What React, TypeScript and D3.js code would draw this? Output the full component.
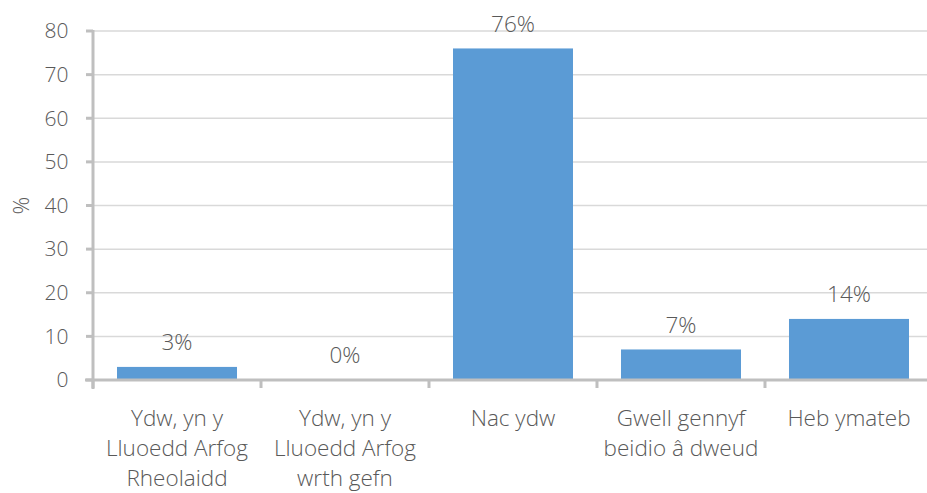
import React from "react";
import * as d3 from "d3";

const categories: string[][] = [
  ["Ydw, yn y", "Lluoedd Arfog", "Rheolaidd"],
  ["Ydw, yn y", "Lluoedd Arfog", "wrth gefn"],
  ["Nac ydw"],
  ["Gwell gennyf", "beidio â dweud"],
  ["Heb ymateb"],
];
const values: number[] = [3, 0, 76, 7, 14];
const valueLabels: string[] = ["3%", "0%", "76%", "7%", "14%"];
const yTicks: number[] = [0, 10, 20, 30, 40, 50, 60, 70, 80];
const yAxisTitle = "%";

const W = 927;
const H = 493;
const left = 93;
const right = 933;
const top = 31;
const bottom = 380;
const FONT = "'Open Sans', sans-serif";
const TEXT = "#595959";

export default function App() {
  const x = d3
    .scaleBand<number>()
    .domain(values.map((_, i) => i))
    .range([left, right])
    .paddingInner(0.2857)
    .paddingOuter(0.1429);
  const y = d3.scaleLinear().domain([0, 80]).range([bottom, top]);
  const step = x.step();

  return (
    <svg
      width={W}
      height={H}
      style={{ position: "absolute", left: 0, top: 0, background: "#fff" }}
      fontFamily={FONT}
    >
      {yTicks.map((t) =>
        t === 0 ? null : (
          <line key={"g" + t} x1={left} x2={W} y1={y(t)} y2={y(t)} stroke="#d9d9d9" strokeWidth={1.5} />
        )
      )}
      {values.map((v, i) => (
        <rect
          key={"b" + i}
          x={x(i)}
          y={y(v)}
          width={x.bandwidth()}
          height={bottom - y(v)}
          fill="#5b9bd5"
        />
      ))}
      <line x1={left} x2={left} y1={top - 1} y2={bottom + 9} stroke="#bfbfbf" strokeWidth={3} />
      <line x1={left - 8} x2={W} y1={bottom} y2={bottom} stroke="#bfbfbf" strokeWidth={3} />
      {yTicks.map((t) => (
        <line key={"yt" + t} x1={left - 7} x2={left} y1={y(t)} y2={y(t)} stroke="#bfbfbf" strokeWidth={3} />
      ))}
      {d3.range(values.length + 1).map((i) => (
        <line
          key={"xt" + i}
          x1={left + i * step}
          x2={left + i * step}
          y1={bottom}
          y2={bottom + 8}
          stroke="#bfbfbf"
          strokeWidth={3}
        />
      ))}
      {yTicks.map((t) => (
        <text
          key={"yl" + t}
          x={68.5}
          y={y(t)}
          dy="0.35em"
          textAnchor="end"
          fontSize={21}
          fontWeight={300}
          fill={TEXT}
        >
          {t}
        </text>
      ))}
      <text
        transform={`translate(21,${(top + bottom) / 2}) rotate(-90)`}
        dy="0.35em"
        textAnchor="middle"
        fontSize={22}
        fontWeight={300}
        fill={TEXT}
      >
        {yAxisTitle}
      </text>
      {values.map((v, i) => (
        <text
          key={"vl" + i}
          x={(x(i) as number) + x.bandwidth() / 2}
          y={y(v) - 24.5}
          dy="0.35em"
          textAnchor="middle"
          fontSize={22.5}
          fontWeight={300}
          fill={TEXT}
        >
          {valueLabels[i]}
        </text>
      ))}
      {categories.map((lines, i) => (
        <text key={"c" + i} textAnchor="middle" fontSize={22.5} fontWeight={300} fill={TEXT}>
          {lines.map((ln, j) => (
            <tspan key={j} x={(x(i) as number) + x.bandwidth() / 2} y={418 + j * 30} dy="0.35em">
              {ln}
            </tspan>
          ))}
        </text>
      ))}
    </svg>
  );
}
